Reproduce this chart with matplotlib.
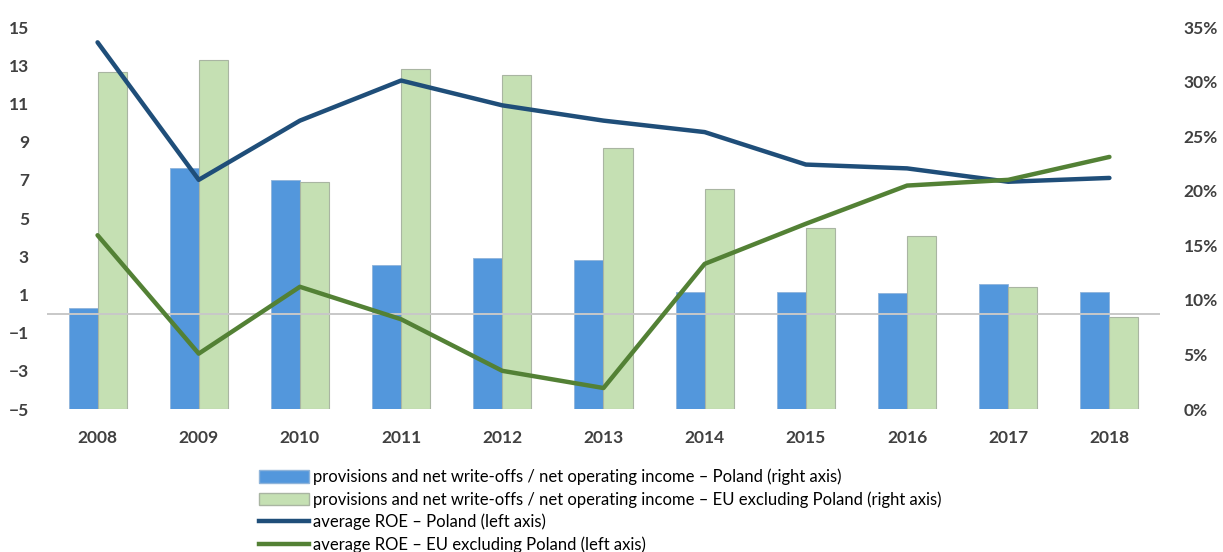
import matplotlib.pyplot as plt
import numpy as np
from matplotlib.ticker import FuncFormatter
from matplotlib.patches import Patch
from matplotlib.lines import Line2D

years = ["2008", "2009", "2010", "2011", "2012", "2013", "2014", "2015", "2016", "2017", "2018"]

# provisions and net write-offs / net operating income, % (right axis)
prov_pl = [9.3, 22.1, 21.0, 13.2, 13.8, 13.7, 10.7, 10.7, 10.6, 11.5, 10.7]
prov_eu = [30.9, 32.0, 20.8, 31.2, 30.6, 23.9, 20.2, 16.6, 15.9, 11.2, 8.4]

# average ROE (left axis)
roe_pl = [14.2, 7.0, 10.1, 12.2, 10.9, 10.1, 9.5, 7.8, 7.6, 6.9, 7.1]
roe_eu = [4.1, -2.1, 1.4, -0.3, -3.0, -3.9, 2.6, 4.7, 6.7, 7.0, 8.2]

plt.rcParams['font.family'] = ['Lato', 'DejaVu Sans']

fig = plt.figure(figsize=(12.23, 5.52), dpi=100)
ax = fig.add_axes([0.0384, 0.259, 0.9101, 0.692])
ax2 = ax.twinx()

x = np.arange(len(years))
w = 0.287

# bars on the right axis, drawn behind the lines
ax2.bar(x - w / 2, prov_pl, width=w, color="#5397dc", edgecolor="#8fb4da", linewidth=0.6, zorder=1)
ax2.bar(x + w / 2, prov_eu, width=w, color="#c5e0b3", edgecolor="#a9b5a2", linewidth=0.8, zorder=1)
ax2.set_ylim(0, 35)
ax2.set_yticks(range(0, 36, 5))
ax2.yaxis.set_major_formatter(FuncFormatter(lambda v, p: f"{v:.0f}%"))

# put the line axis on top
ax.set_zorder(ax2.get_zorder() + 1)
ax.patch.set_visible(False)

ax.axhline(0, color="#c8c8c8", linewidth=1.4, zorder=2)
ax.plot(x, roe_pl, color="#1f4e79", linewidth=3.2, solid_capstyle="round", zorder=3)
ax.plot(x, roe_eu, color="#538135", linewidth=3.2, solid_capstyle="round", zorder=3)
ax.set_ylim(-5, 15)
ax.set_yticks(range(-5, 16, 2))
ax.set_xlim(-0.5, len(years) - 0.5)
ax.set_xticks(x)
ax.set_xticklabels(years)

for a in (ax, ax2):
    for s in a.spines.values():
        s.set_visible(False)
    a.tick_params(length=0, labelsize=12.5, labelcolor="#404040")
    for lab in a.get_xticklabels() + a.get_yticklabels():
        lab.set_fontweight("bold")

ax.tick_params(axis="y", pad=13)
ax.tick_params(axis="x", pad=15)
ax2.tick_params(axis="y", pad=17)

# legend
handles = [
    Patch(facecolor="#5397dc", edgecolor="#8fb4da"),
    Patch(facecolor="#c5e0b3", edgecolor="#a9b5a2"),
    Line2D([], [], color="#1f4e79", linewidth=3.2),
    Line2D([], [], color="#538135", linewidth=3.2),
]
labels = [
    "provisions and net write-offs / net operating income – Poland (right axis)",
    "provisions and net write-offs / net operating income – EU excluding Poland (right axis)",
    "average ROE – Poland (left axis)",
    "average ROE – EU excluding Poland (left axis)",
]
fig.legend(handles, labels, loc="upper left", bbox_to_anchor=(0.212, 0.151),
           frameon=False, fontsize=12, handlelength=3.0, handleheight=0.8,
           handletextpad=0.2, labelspacing=0.36, borderpad=0, borderaxespad=0)

fig.savefig("out.png", dpi=100)
